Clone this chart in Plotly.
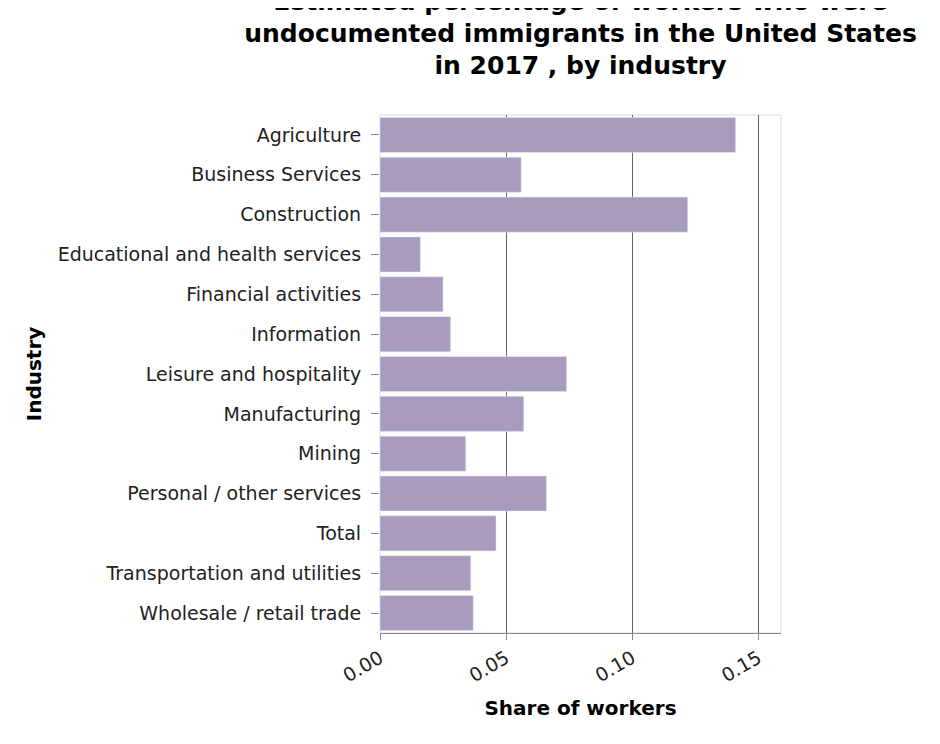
import plotly.graph_objects as go

industries = ["Agriculture", "Business Services", "Construction",
              "Educational and health services", "Financial activities",
              "Information", "Leisure and hospitality", "Manufacturing",
              "Mining", "Personal / other services", "Total",
              "Transportation and utilities", "Wholesale / retail trade"]
share = [0.141, 0.056, 0.122, 0.016, 0.025, 0.028, 0.074, 0.057,
         0.034, 0.066, 0.046, 0.036, 0.037]

fig = go.Figure(go.Bar(x=share, y=industries, orientation="h",
                       marker_color="#a99bbe", width=0.88))

fig.update_layout(
    width=940, height=744,
    margin=dict(l=372, r=167, t=107, b=119),
    plot_bgcolor="white", paper_bgcolor="white",
    font=dict(family="DejaVu Sans", size=19, color="#222"),
    title=dict(text="<b>Estimated percentage of workers who were<br>undocumented immigrants in the United States<br>in 2017 , by industry</b>",
               x=0.5, xref="paper", y=0.998, yanchor="top", font=dict(size=25, color="black")),
    showlegend=False,
)
fig.update_xaxes(range=[0, 0.159], tickvals=[0, 0.05, 0.1, 0.15],
                 ticktext=["0.00", "0.05", "0.10", "0.15"], tickangle=-30,
                 showgrid=True, gridcolor="#666", gridwidth=1,
                 showline=True, linecolor="#888", mirror=False, zeroline=False,
                 ticks="outside", ticklen=6, tickcolor="#888",
                 title=dict(text="<b>Share of workers</b>", font=dict(size=20, color="black")))
fig.update_yaxes(autorange="reversed", ticks="outside", ticklen=8, tickcolor="#888",
                 showline=False, ticksuffix=" ",
                 title=dict(text="<b>Industry</b>", font=dict(size=20, color="black"), standoff=10))
fig.add_shape(type="rect", xref="paper", yref="paper", x0=0, x1=1, y0=0, y1=1,
              line=dict(color="#ddd", width=1), layer="below")
fig.write_html("out.html")
